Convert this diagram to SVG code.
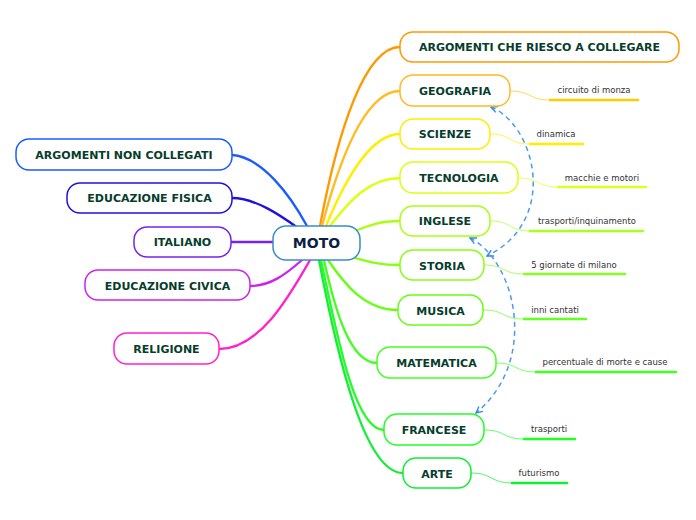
<svg xmlns="http://www.w3.org/2000/svg" width="696" height="520" viewBox="0 0 696 520">
<defs>
<style>
.n{fill:#fff;stroke-width:1.5}
.t{font-family:"DejaVu Sans",Verdana,sans-serif;font-weight:bold;font-size:11px;fill:#063d2c;text-anchor:middle}
.l{font-family:"DejaVu Sans",Verdana,sans-serif;font-size:8.5px;fill:#333;text-anchor:middle}
.c{fill:none;stroke-width:2.3;stroke-linecap:round}
.s{fill:none;stroke-width:1;opacity:.7}
.u{stroke-width:2.5;stroke-linecap:round}
.d{fill:none;stroke:#4a9be8;stroke-width:1.5;stroke-dasharray:5 4;marker-start:url(#ah);marker-end:url(#ah)}
</style>
<marker id="ah" viewBox="0 0 10 10" refX="9" refY="5" markerWidth="8" markerHeight="8" orient="auto-start-reverse" markerUnits="userSpaceOnUse">
<path d="M1,1 L9,5 L1,9" fill="none" stroke="#3a8be0" stroke-width="1.8"/>
</marker>
</defs>
<g id="connectors">
<path class="c" stroke="#1a5cff" d="M307,226 C290,195 262,157 232,155"/>
<path class="c" stroke="#2211dd" d="M298,228 C280,215 255,198 232,198"/>
<path class="c" stroke="#7722ee" d="M273,242 L231,242"/>
<path class="c" stroke="#cc22ee" d="M302,260 C285,275 270,286 250,286"/>
<path class="c" stroke="#ff22cc" d="M310,260 C290,295 260,349 219,349"/>
<path class="c" stroke="#ff9900" d="M320,226 C338,130 365,47 400,47"/>
<path class="c" stroke="#ffbb22" d="M322,226 C342,150 368,91 400,91"/>
<path class="c" stroke="#ffee00" d="M326,226 C345,180 370,134 400,134"/>
<path class="c" stroke="#ddff11" d="M330,226 C350,200 370,178 400,178"/>
<path class="c" stroke="#aaff11" d="M352,232 C370,225 380,221 400,221"/>
<path class="c" stroke="#88ff11" d="M352,257 C370,262 380,265 400,265"/>
<path class="c" stroke="#66ff11" d="M328,260 C345,285 365,310 398,310"/>
<path class="c" stroke="#44ff22" d="M324,260 C335,310 350,363 377,363"/>
<path class="c" stroke="#22ff22" d="M321,260 C338,340 355,430 384,430"/>
<path class="c" stroke="#11ee33" d="M319,260 C338,360 365,473 403,473"/>
<path class="s" stroke="#ffcc00" d="M510,91 C532,91 528,100 550,100"/>
<path class="s" stroke="#ffee00" d="M490,134 C512,134 508,144 530,144"/>
<path class="s" stroke="#ddff22" d="M518,178 C540,178 536,187 558,187"/>
<path class="s" stroke="#aaff22" d="M490,221 C512,221 508,231 530,231"/>
<path class="s" stroke="#88ff22" d="M484,265 C506,265 502,274 524,274"/>
<path class="s" stroke="#66ff22" d="M483,310 C506,310 501,319 524,319"/>
<path class="s" stroke="#44ff22" d="M496,363 C518,363 514,372 536,372"/>
<path class="s" stroke="#22ff22" d="M484,430 C506,430 502,439 524,439"/>
<path class="s" stroke="#11ee33" d="M471,473 C493,473 490,483 512,483"/>
<line class="u" stroke="#ffcc00" x1="550" y1="100" x2="638" y2="100"/>
<line class="u" stroke="#ffee00" x1="530" y1="144" x2="583" y2="144"/>
<line class="u" stroke="#ddff22" x1="558" y1="187" x2="646" y2="187"/>
<line class="u" stroke="#aaff22" x1="530" y1="231" x2="643" y2="231"/>
<line class="u" stroke="#88ff22" x1="524" y1="274" x2="625" y2="274"/>
<line class="u" stroke="#66ff22" x1="524" y1="319" x2="586" y2="319"/>
<line class="u" stroke="#44ff22" x1="536" y1="372" x2="676" y2="372"/>
<line class="u" stroke="#22ff22" x1="524" y1="439" x2="575" y2="439"/>
<line class="u" stroke="#11ee33" x1="512" y1="483" x2="567" y2="483"/>
<path class="d" d="M491,107 C535,125 560,220 487,256"/>
<path class="d" d="M470,238 C515,260 540,360 476,413"/>
</g>
<g id="moto"><rect class="n" x="273" y="226" width="87" height="34" rx="13" stroke="#3a8ccb" fill="#fafdff"/><text x="316.5" y="248" style="font-family:'DejaVu Sans',Verdana,sans-serif;font-weight:bold;font-size:14px;fill:#0a1f44;text-anchor:middle">MOTO</text></g>
<g id="n-argnon"><rect class="n" x="16" y="139" width="216" height="31" rx="13" stroke="#1a5cff"/><text class="t" x="124" y="159">ARGOMENTI NON COLLEGATI</text></g>
<g id="n-edufis"><rect class="n" x="67" y="183" width="165" height="30" rx="13" stroke="#2211dd"/><text class="t" x="149.5" y="202">EDUCAZIONE FISICA</text></g>
<g id="n-ita"><rect class="n" x="134" y="227" width="97" height="30" rx="13" stroke="#7722ee"/><text class="t" x="182.5" y="246">ITALIANO</text></g>
<g id="n-educiv"><rect class="n" x="85" y="270" width="165" height="30" rx="13" stroke="#cc22ee"/><text class="t" x="167.5" y="290">EDUCAZIONE CIVICA</text></g>
<g id="n-rel"><rect class="n" x="114" y="333" width="105" height="31" rx="13" stroke="#ff22cc"/><text class="t" x="166.5" y="353">RELIGIONE</text></g>
<g id="n-argche"><rect class="n" x="400" y="32" width="279" height="30" rx="13" stroke="#ff9900"/><text class="t" x="539.5" y="51">ARGOMENTI CHE RIESCO A COLLEGARE</text></g>
<g id="n-geo"><rect class="n" x="400" y="75" width="110" height="31" rx="13" stroke="#ffbb22"/><text class="t" x="455" y="95">GEOGRAFIA</text></g>
<g id="n-sci"><rect class="n" x="400" y="119" width="90" height="30" rx="13" stroke="#ffee00"/><text class="t" x="445" y="138">SCIENZE</text></g>
<g id="n-tec"><rect class="n" x="400" y="162" width="118" height="31" rx="13" stroke="#ddff11"/><text class="t" x="459" y="182">TECNOLOGIA</text></g>
<g id="n-ing"><rect class="n" x="400" y="206" width="90" height="30" rx="13" stroke="#aaff11"/><text class="t" x="445" y="225">INGLESE</text></g>
<g id="n-sto"><rect class="n" x="400" y="250" width="84" height="30" rx="13" stroke="#88ff11"/><text class="t" x="442" y="270">STORIA</text></g>
<g id="n-mus"><rect class="n" x="398" y="295" width="85" height="30" rx="13" stroke="#66ff11"/><text class="t" x="440.5" y="315">MUSICA</text></g>
<g id="n-mat"><rect class="n" x="377" y="347" width="119" height="31" rx="13" stroke="#44ff22"/><text class="t" x="436.5" y="367">MATEMATICA</text></g>
<g id="n-fra"><rect class="n" x="384" y="414" width="100" height="31" rx="13" stroke="#22ff22"/><text class="t" x="434" y="434">FRANCESE</text></g>
<g id="n-arte"><rect class="n" x="403" y="458" width="68" height="30" rx="13" stroke="#11ee33"/><text class="t" x="437" y="478">ARTE</text></g>
<g id="labels">
<text class="l" x="594" y="93">circuito di monza</text>
<text class="l" x="556" y="137">dinamica</text>
<text class="l" x="602" y="181">macchie e motori</text>
<text class="l" x="587" y="224">trasporti/inquinamento</text>
<text class="l" x="574" y="268">5 giornate di milano</text>
<text class="l" x="555" y="313">inni cantati</text>
<text class="l" x="605" y="365">percentuale di morte e cause</text>
<text class="l" x="549" y="432">trasporti</text>
<text class="l" x="539" y="476">futurismo</text>
</g>
</svg>
